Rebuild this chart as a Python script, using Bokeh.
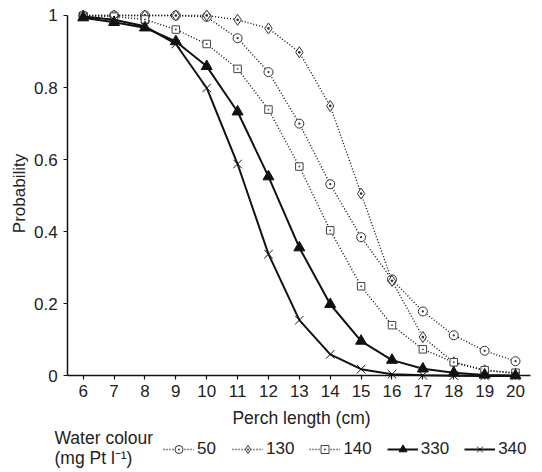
import math
from bokeh.plotting import figure
from bokeh.models import Range1d, FixedTicker, Legend, LegendItem, Label
from bokeh.embed import file_html
from bokeh.resources import INLINE

# ---- data ----
lengths = [6, 7, 8, 9, 10, 11, 12, 13, 14, 15, 16, 17, 18, 19, 20]
p50 = [1.0, 1.0, 1.0, 1.0, 0.996, 0.937, 0.843, 0.700, 0.532, 0.385, 0.268, 0.179, 0.113, 0.070, 0.041]
p130 = [1.0, 1.0, 1.0, 1.0, 1.0, 0.988, 0.964, 0.898, 0.749, 0.506, 0.264, 0.108, 0.038, 0.016, 0.007]
p140 = [0.999, 0.997, 0.989, 0.961, 0.921, 0.852, 0.739, 0.581, 0.404, 0.249, 0.141, 0.074, 0.038, 0.016, 0.009]
p330 = [0.994, 0.981, 0.966, 0.928, 0.859, 0.733, 0.553, 0.356, 0.199, 0.097, 0.044, 0.020, 0.009, 0.003, 0.001]
p340 = [0.997, 0.988, 0.970, 0.921, 0.799, 0.588, 0.338, 0.155, 0.060, 0.019, 0.005, 0.002, 0.001, 0.0, 0.0]
series_labels = ["50", "130", "140", "330", "340"]
x_ticks = lengths
y_ticks = [0, 0.2, 0.4, 0.6, 0.8, 1]
y_tick_labels = {0: "0", 0.2: "0.2", 0.4: "0.4", 0.6: "0.6", 0.8: "0.8", 1: "1"}
x_title = "Perch length (cm)"
y_title = "Probability"
legend_title = ["Water colour", "(mg Pt l\u207b\u00b9)"]

FONT = "Liberation Sans"
FS = "17px"
TXT = "#222222"

p = figure(width=542, height=472, output_backend="svg", toolbar_location=None,
           x_range=Range1d(3.322, 20.874), y_range=Range1d(-0.2677, 1.0416),
           min_border_left=0, min_border_right=0, min_border_top=0, min_border_bottom=0)
p.outline_line_color = None
p.grid.visible = False
p.background_fill_color = "white"

# axes
xa = p.xaxis[0]
xa.fixed_location = 0
xa.bounds = (5.5, 20.5)
xa.ticker = FixedTicker(ticks=x_ticks)
ya = p.yaxis[0]
ya.fixed_location = 5.5
ya.ticker = FixedTicker(ticks=y_ticks)
ya.bounds = (0, 1)
ya.major_label_overrides = y_tick_labels
for ax in (xa, ya):
    ax.minor_tick_line_color = None
    ax.major_tick_in = 0
    ax.major_tick_out = 4
    ax.axis_line_width = 1.5
    ax.axis_line_color = "#111111"
    ax.major_tick_line_color = "#111111"
    ax.major_tick_line_width = 1.2
    ax.major_label_text_font = FONT
    ax.major_label_text_font_size = FS
    ax.major_label_text_color = TXT
xa.major_label_standoff = 5
ya.major_label_standoff = 6

DOT = "#111111"
MK = "#333333"
dash = "1 2"

l50 = p.line(lengths, p50, line_color=DOT, line_width=1.4, line_dash=dash)
m50 = p.scatter(lengths, p50, marker="circle_dot", size=9, fill_color="white", line_color=MK, line_width=1)
l130 = p.line(lengths, p130, line_color=DOT, line_width=1.4, line_dash=dash)
m130 = p.scatter(lengths, p130, marker="diamond_dot", size=11,
                 fill_color="white", line_color=MK, line_width=1)
l140 = p.line(lengths, p140, line_color=DOT, line_width=1.4, line_dash=dash)
m140 = p.scatter(lengths, p140, marker="square_dot", size=7.5, fill_color="white", line_color="#444444", line_width=1)
l330 = p.line(lengths, p330, line_color="#111111", line_width=2)
m330 = p.scatter(lengths, p330, marker="triangle", size=11, fill_color="#111111", line_color="#111111")
l340 = p.line(lengths, p340, line_color="#111111", line_width=2)
m340 = p.scatter(lengths, p340, marker="x", size=12, line_color="#111111", line_width=1)

items = [
    LegendItem(label=series_labels[0], renderers=[l50, m50]),
    LegendItem(label=series_labels[1], renderers=[l130, m130]),
    LegendItem(label=series_labels[2], renderers=[l140, m140]),
    LegendItem(label=series_labels[3], renderers=[l330, m330]),
    LegendItem(label=series_labels[4], renderers=[l340, m340]),
]
legend = Legend(items=items, orientation="horizontal", location=(163, 13),
                padding=0, margin=0, spacing=15, glyph_width=31, glyph_height=20,
                label_height=20, label_standoff=3,
                label_text_font=FONT, label_text_font_size=FS, label_text_color=TXT,
                background_fill_alpha=0, border_line_alpha=0)
p.add_layout(legend)

def lab(text, x, y, size=FS, **kw):
    p.add_layout(Label(x=x, y=y, x_units="screen", y_units="screen", text=text,
                       text_font=FONT, text_font_size=size, text_color=TXT, **kw))

lab(y_title, 19, 279, angle=math.pi / 2, text_align="center", text_baseline="middle")
lab(x_title, 301, 55, size="17.5px", text_align="center", text_baseline="middle")
lab(legend_title[0], 54, 35, size="17.5px", text_baseline="middle")
lab(legend_title[1], 54, 15, size="17.5px", text_baseline="middle")

open("out.html", "w").write(file_html(p, INLINE))
